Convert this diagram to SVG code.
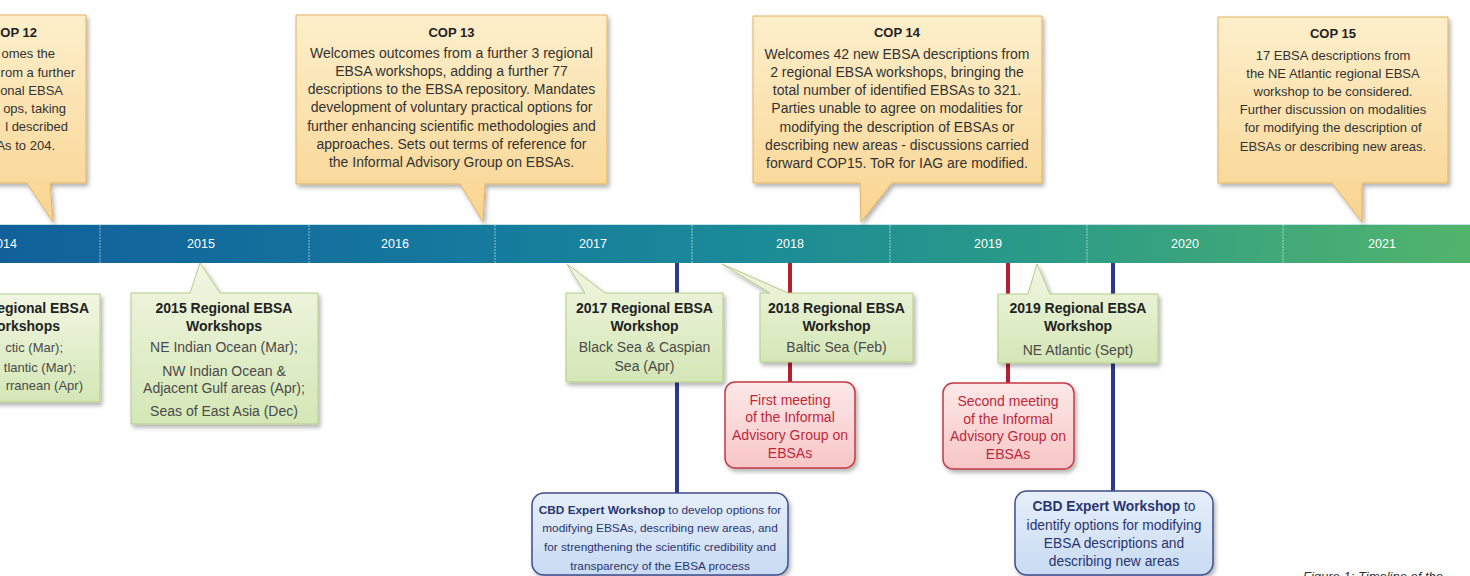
<svg xmlns="http://www.w3.org/2000/svg" width="1470" height="576" viewBox="0 0 1470 576">
<defs>
<linearGradient id="gBar" x1="0" y1="0" x2="1470" y2="0" gradientUnits="userSpaceOnUse">
<stop offset="0" stop-color="#11609a"/>
<stop offset="0.3" stop-color="#15789e"/>
<stop offset="0.5" stop-color="#1a8a98"/>
<stop offset="0.7" stop-color="#2a9a88"/>
<stop offset="1" stop-color="#52b46c"/>
</linearGradient>
<linearGradient id="gCop" x1="0" y1="0" x2="0" y2="1">
<stop offset="0" stop-color="#fdefcb"/>
<stop offset="1" stop-color="#f9d490"/>
</linearGradient>
<linearGradient id="gGreen" x1="0" y1="0" x2="0" y2="1">
<stop offset="0" stop-color="#f1f6e2"/>
<stop offset="1" stop-color="#d4e7b6"/>
</linearGradient>
<linearGradient id="gRed" x1="0" y1="0" x2="0" y2="1">
<stop offset="0" stop-color="#fde8e8"/>
<stop offset="1" stop-color="#f7c6c6"/>
</linearGradient>
<linearGradient id="gBlue" x1="0" y1="0" x2="0" y2="1">
<stop offset="0" stop-color="#e6effa"/>
<stop offset="1" stop-color="#c8dbf2"/>
</linearGradient>
<filter id="sh" x="-10%" y="-10%" width="130%" height="130%">
<feDropShadow dx="2" dy="3" stdDeviation="2" flood-color="#000" flood-opacity="0.3"/>
</filter>
</defs>
<style>
text{font-family:"Liberation Sans",Arial,sans-serif;font-size:13px}
.cop{fill:url(#gCop);stroke:#e2b25f;stroke-width:1}
.grn{fill:url(#gGreen);stroke:#b3cd88;stroke-width:1}
.red{fill:url(#gRed);stroke:#c23a45;stroke-width:1.5}
.blu{fill:url(#gBlue);stroke:#3d4d8e;stroke-width:1.5}
.t{font-weight:bold;fill:#222}
.b{fill:#333}
.big{font-size:14px}
.g{fill:#4a4a4a;font-size:14px}
.g13{fill:#4a4a4a}
.gt{font-size:14px}
.c{text-anchor:middle}
.e{text-anchor:end}
.rt{fill:#c0283a;text-anchor:middle;font-size:14px}
.bt{fill:#2a3570;text-anchor:middle}
.s1{font-size:11.8px}
.s2{font-size:13.8px}
.yr{fill:#fff;text-anchor:middle;font-size:12.5px}
.div{stroke:#ffffff;stroke-opacity:0.55;stroke-width:1;stroke-dasharray:2 1}
</style>
<rect x="0" y="0" width="1470" height="576" fill="#fff"/>

<g id="timeline">
<rect x="-2" y="224" width="1474" height="39" fill="url(#gBar)"/>
<line x1="0" y1="224.5" x2="1470" y2="224.5" stroke="#bfe3e6" stroke-width="1"/>
<line class="div" x1="100" y1="225" x2="100" y2="263"/>
<line class="div" x1="309" y1="225" x2="309" y2="263"/>
<line class="div" x1="495" y1="225" x2="495" y2="263"/>
<line class="div" x1="692" y1="225" x2="692" y2="263"/>
<line class="div" x1="890" y1="225" x2="890" y2="263"/>
<line class="div" x1="1087" y1="225" x2="1087" y2="263"/>
<line class="div" x1="1283" y1="225" x2="1283" y2="263"/>
<text class="yr" x="3" y="248">2014</text>
<text class="yr" x="201" y="248">2015</text>
<text class="yr" x="395" y="248">2016</text>
<text class="yr" x="593" y="248">2017</text>
<text class="yr" x="790" y="248">2018</text>
<text class="yr" x="988" y="248">2019</text>
<text class="yr" x="1185" y="248">2020</text>
<text class="yr" x="1382" y="248">2021</text>
</g>

<g id="connectors">
<line x1="677" y1="263" x2="677" y2="493" stroke="#2b3a8c" stroke-width="4"/>
<line x1="1113" y1="263" x2="1113" y2="491" stroke="#2b3a8c" stroke-width="4"/>
<line x1="790" y1="263" x2="790" y2="382" stroke="#b82030" stroke-width="4"/>
<line x1="1008" y1="263" x2="1008" y2="383" stroke="#b82030" stroke-width="4"/>
</g>

<g id="cop12">
<path class="cop" filter="url(#sh)" d="M-20,15 H86 V183 H50 L53,222 L27,183 H-20 Z"/>
<text class="t e" x="37" y="37">COP 12</text>
<text class="b e" x="55" y="58">omes the</text>
<text class="b e" x="75" y="77">rom a further</text>
<text class="b e" x="63" y="95">onal EBSA</text>
<text class="b e" x="66" y="113">ops, taking</text>
<text class="b e" x="68" y="131">l described</text>
<text class="b e" x="55" y="150">As to 204.</text>
</g>

<g id="cop13">
<path class="cop" filter="url(#sh)" d="M296,15 H607 V184 H485 L483,222 L460,184 H296 Z"/>
<text class="t c" x="451.5" y="37">COP 13</text>
<text class="b c big" x="451.5" y="58">Welcomes outcomes from a further 3 regional</text>
<text class="b c big" x="451.5" y="76">EBSA workshops, adding a further 77</text>
<text class="b c big" x="451.5" y="94">descriptions to the EBSA repository. Mandates</text>
<text class="b c big" x="451.5" y="112">development of voluntary practical options for</text>
<text class="b c big" x="451.5" y="131">further enhancing scientific methodologies and</text>
<text class="b c big" x="451.5" y="149">approaches. Sets out terms of reference for</text>
<text class="b c big" x="451.5" y="167">the Informal Advisory Group on EBSAs.</text>
</g>

<g id="cop14">
<path class="cop" filter="url(#sh)" d="M753,16 H1042 V183 H892 L861,222 L860,183 H753 Z"/>
<text class="t c" x="897" y="37">COP 14</text>
<text class="b c big" x="897" y="59">Welcomes 42 new EBSA descriptions from</text>
<text class="b c big" x="897" y="77">2 regional EBSA workshops, bringing the</text>
<text class="b c big" x="897" y="95">total number of identified EBSAs to 321.</text>
<text class="b c big" x="897" y="113">Parties unable to agree on modalities for</text>
<text class="b c big" x="897" y="132">modifying the description of EBSAs or</text>
<text class="b c big" x="897" y="150">describing new areas - discussions carried</text>
<text class="b c big" x="897" y="168">forward COP15. ToR for IAG are modified.</text>
</g>

<g id="cop15">
<path class="cop" filter="url(#sh)" d="M1218,17 H1448 V183 H1362 L1362,222 L1332,183 H1218 Z"/>
<text class="t c" x="1333" y="38">COP 15</text>
<text class="b c" x="1333" y="60">17 EBSA descriptions from</text>
<text class="b c" x="1333" y="78">the NE Atlantic regional EBSA</text>
<text class="b c" x="1333" y="96">workshop to be considered.</text>
<text class="b c" x="1333" y="114">Further discussion on modalities</text>
<text class="b c" x="1333" y="132">for modifying the description of</text>
<text class="b c" x="1333" y="151">EBSAs or describing new areas.</text>
</g>

<g id="ws2014">
<rect class="grn" filter="url(#sh)" x="-20" y="294" width="120" height="108"/>
<text class="t e gt" x="89" y="313">Regional EBSA</text>
<text class="t e gt" x="60" y="331">Workshops</text>
<text class="g13 e" x="63" y="352">ctic (Mar);</text>
<text class="g13 e" x="76" y="372">tlantic (Mar);</text>
<text class="g13 e" x="83" y="390">rranean (Apr)</text>
</g>

<g id="ws2015">
<path class="grn" filter="url(#sh)" d="M131,293 H190 L200,263 L220,293 H318 V424 H131 Z"/>
<text class="t c gt" x="224" y="313">2015 Regional EBSA</text>
<text class="t c gt" x="224" y="331">Workshops</text>
<text class="g c" x="224" y="352">NE Indian Ocean (Mar);</text>
<text class="g c" x="224" y="376">NW Indian Ocean &amp;</text>
<text class="g c" x="224" y="393">Adjacent Gulf areas (Apr);</text>
<text class="g c" x="224" y="416">Seas of East Asia (Dec)</text>
</g>

<g id="ws2017">
<path class="grn" filter="url(#sh)" d="M566,293 H585 L567,264 L605,293 H723 V382 H566 Z"/>
<text class="t c gt" x="644.5" y="313">2017 Regional EBSA</text>
<text class="t c gt" x="644.5" y="331">Workshop</text>
<text class="g c" x="644.5" y="352">Black Sea &amp; Caspian</text>
<text class="g c" x="644.5" y="371">Sea (Apr)</text>
</g>

<g id="ws2018">
<path class="grn" filter="url(#sh)" d="M760,293 H770 L722,264 L788,293 H913 V362 H760 Z"/>
<text class="t c gt" x="836.5" y="313">2018 Regional EBSA</text>
<text class="t c gt" x="836.5" y="331">Workshop</text>
<text class="g c" x="836.5" y="352">Baltic Sea (Feb)</text>
</g>

<g id="ws2019">
<path class="grn" filter="url(#sh)" d="M998,294 H1028 L1037,264 L1050,294 H1158 V363 H998 Z"/>
<text class="t c gt" x="1078" y="313">2019 Regional EBSA</text>
<text class="t c gt" x="1078" y="331">Workshop</text>
<text class="g c" x="1078" y="355">NE Atlantic (Sept)</text>
</g>

<g id="iag1">
<rect class="red" filter="url(#sh)" x="725" y="382" width="130" height="86" rx="10"/>
<text class="rt" x="790" y="405">First meeting</text>
<text class="rt" x="790" y="422">of the Informal</text>
<text class="rt" x="790" y="440">Advisory Group on</text>
<text class="rt" x="790" y="458">EBSAs</text>
</g>

<g id="iag2">
<rect class="red" filter="url(#sh)" x="943" y="383" width="131" height="86" rx="10"/>
<text class="rt" x="1008" y="406">Second meeting</text>
<text class="rt" x="1008" y="424">of the Informal</text>
<text class="rt" x="1008" y="441">Advisory Group on</text>
<text class="rt" x="1008" y="459">EBSAs</text>
</g>

<g id="cbd1">
<rect class="blu" filter="url(#sh)" x="532" y="493" width="256" height="82" rx="12"/>
<text class="bt s1" x="660" y="514"><tspan font-weight="bold">CBD Expert Workshop</tspan> to develop options for</text>
<text class="bt s1" x="660" y="532">modifying EBSAs, describing new areas, and</text>
<text class="bt s1" x="660" y="551">for strengthening the scientific credibility and</text>
<text class="bt s1" x="660" y="570">transparency of the EBSA process</text>
</g>

<g id="cbd2">
<rect class="blu" filter="url(#sh)" x="1015" y="491" width="198" height="84" rx="12"/>
<text class="bt s2" x="1114" y="511"><tspan font-weight="bold">CBD Expert Workshop</tspan> to</text>
<text class="bt s2" x="1114" y="530">identify options for modifying</text>
<text class="bt s2" x="1114" y="548">EBSA descriptions and</text>
<text class="bt s2" x="1114" y="566">describing new areas</text>
</g>

<text x="1303" y="581" font-style="italic" fill="#333">Figure 1: Timeline of the</text>
</svg>
